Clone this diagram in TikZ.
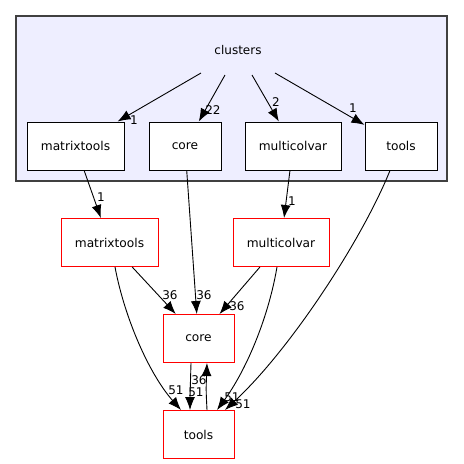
\documentclass[tikz,border=0pt]{standalone}
\usepackage{fontspec}
\setmainfont{DejaVu Sans}
\usetikzlibrary{arrows.meta}

\definecolor{clusterfill}{RGB}{238,238,255}
\definecolor{clusterline}{RGB}{64,64,64}

\tikzset{
  dir/.style={draw=black, fill=white, line width=1pt, minimum height=48pt, inner sep=0pt, font=\fontsize{12.2}{14}\selectfont},
  outdir/.style={dir, draw=red},
  dep/.style={line width=0.9pt, -{Latex[length=13pt,width=10pt]}},
  lbl/.style={inner sep=0pt, font=\fontsize{12}{14}\selectfont}
}

\begin{document}
\begin{tikzpicture}[x=1pt,y=-1pt]

        \useasboundingbox (0,0) rectangle (464,464);

        % the cluster
        \filldraw[fill=clusterfill, draw=clusterline, line width=1.3pt] (16,16) rectangle (447,181);
        \node[lbl] (clusters) at (238,50) {clusters};

        \coordinate (src1) at (201,73);
        \coordinate (src2) at (225,75);
        \coordinate (src3) at (252,75);
        \coordinate (src4) at (275,73);

        \node[dir, minimum width=97pt] (imatrix) at (75.5,146) {matrixtools};
        \node[dir, minimum width=72pt] (icore)   at (185,146)  {core};
        \node[dir, minimum width=96pt] (imulti)  at (293,146)  {multicolvar};
        \node[dir, minimum width=72pt] (itools)  at (401,146)  {tools};

        % directories outside
        \node[outdir, minimum width=97pt] (omatrix) at (109.5,242.5) {matrixtools};
        \node[outdir, minimum width=96pt] (omulti)  at (281,242.5)   {multicolvar};
        \node[outdir, minimum width=71pt] (ocore)   at (198.5,338.5) {core};
        \node[outdir, minimum width=71pt] (otools)  at (198.5,434.5) {tools};

        \draw[dep] (src1) -- (imatrix);
        \draw[dep] (src2) -- (icore);
        \draw[dep] (src3) -- (imulti);
        \draw[dep] (src4) -- (itools);
        \node[lbl] (l1) at (134,120) {1};
        \node[lbl] (l2) at (213,110) {22};
        \node[lbl] (l3) at (276,102) {2};
        \node[lbl] (l4) at (353,108) {1};

        \draw[dep] (imatrix) -- (omatrix);
        \draw[dep] (icore) -- (ocore);
        \draw[dep] (imulti) -- (omulti);
        \draw[dep] ([xshift=-11pt]itools.south) .. controls (362,240) and (290,350) .. ([xshift=26.5pt]otools.north);
        \node[lbl] (l5) at (101,197) {1};
        \node[lbl] (l6) at (204,295) {36};
        \node[lbl] (l7) at (292,201) {1};
        \node[lbl] (l8) at (243,404) {51};

        \draw[dep] (omatrix) -- (ocore);
        \draw[dep] ([xshift=5.5pt]omatrix.south) .. controls (125,320) and (150,375) .. ([xshift=-17.5pt]otools.north);
        \draw[dep] (omulti) -- (ocore);
        \draw[dep] ([xshift=-4pt]omulti.south) .. controls (268,320) and (245,372) .. ([xshift=18.5pt]otools.north);
        \node[lbl] (l9)  at (170,295) {36};
        \node[lbl] (l10) at (176,390) {51};
        \node[lbl] (l11) at (237,306) {36};
        \node[lbl] (l12) at (232,397) {51};

        \draw[dep] ([xshift=-7.5pt]ocore.south) .. controls (190,380) .. ([xshift=-8.5pt]otools.north);
        \draw[dep] ([xshift=8.5pt]otools.north) .. controls (206,390) .. ([xshift=8.5pt]ocore.south);
        \node[lbl] (l13) at (196,392) {51};
        \node[lbl] (l14) at (199,380) {36};

\end{tikzpicture}
\end{document}
